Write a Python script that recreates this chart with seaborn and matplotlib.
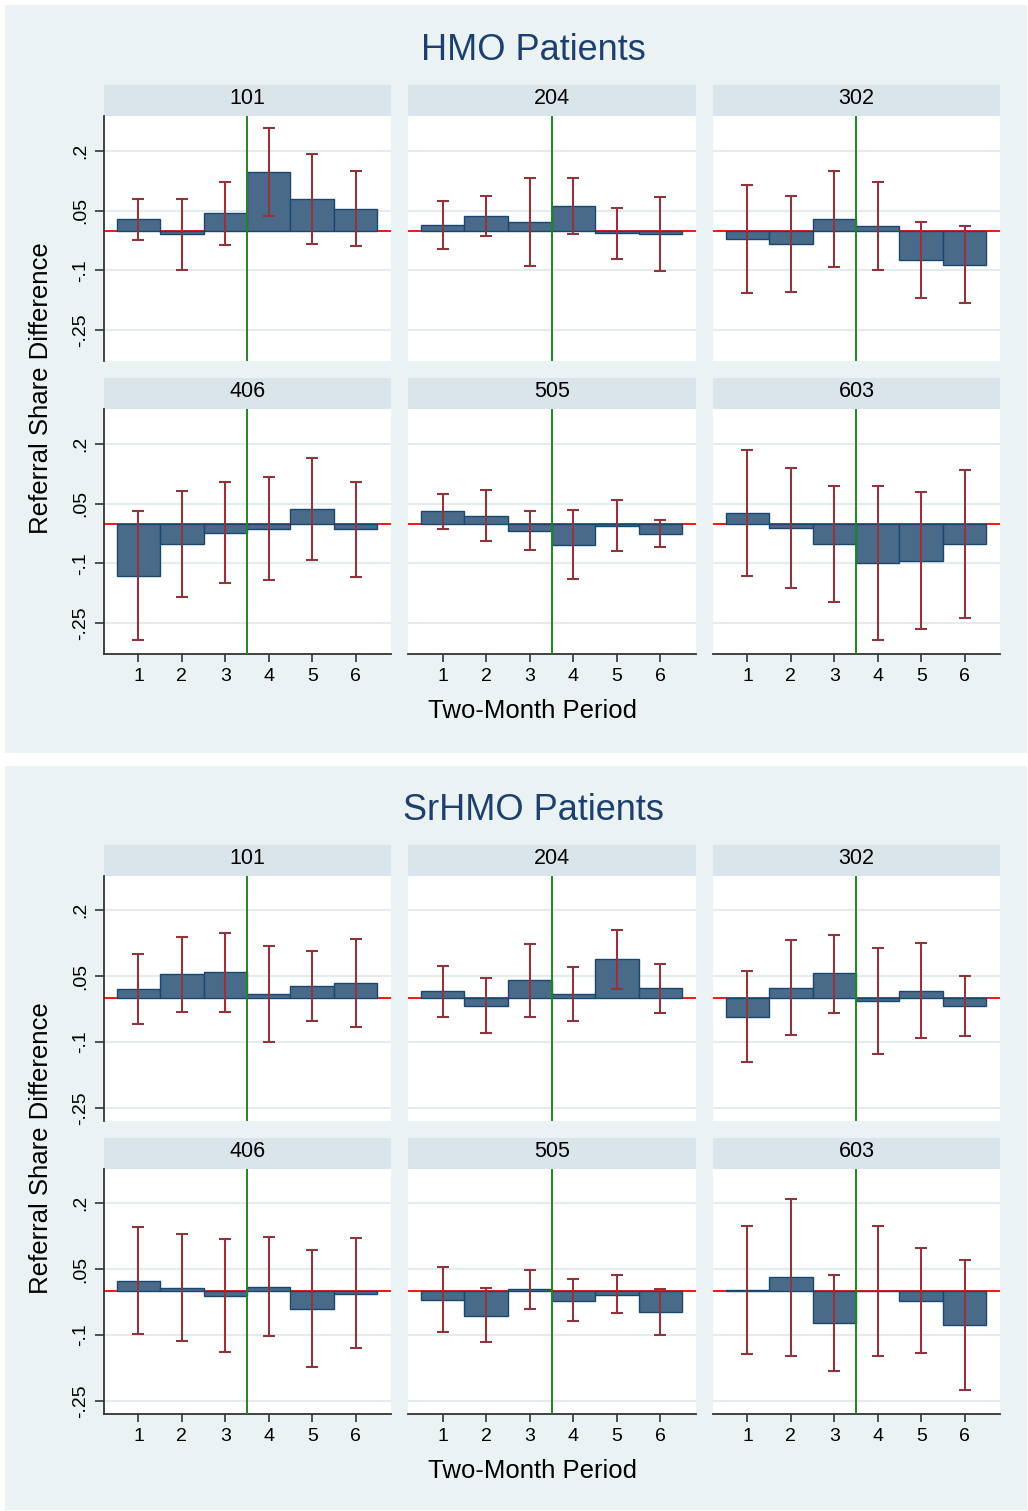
import numpy as np
import pandas as pd
import matplotlib
matplotlib.use("Agg")
import matplotlib.pyplot as plt
import seaborn as sns
from matplotlib.patches import Rectangle

plt.rcParams['font.family'] = ['Liberation Sans', 'DejaVu Sans']

# ---------------- data ----------------
periods = [1, 2, 3, 4, 5, 6]
clinics = ["101", "204", "302", "406", "505", "603"]
tick_vals = [-0.25, -0.1, 0.05, 0.2]
tick_text = ["-.25", "-.1", ".05", ".2"]
panel_titles = ["HMO Patients", "SrHMO Patients"]

hmo_est = {
    "101": [0.029, -0.009, 0.044, 0.148, 0.080, 0.056],
    "204": [0.014, 0.037, 0.023, 0.063, -0.006, -0.008],
    "302": [-0.020, -0.033, 0.029, 0.013, -0.074, -0.087],
    "406": [-0.132, -0.051, -0.023, -0.013, 0.037, -0.013],
    "505": [0.032, 0.019, -0.018, -0.053, -0.005, -0.025],
    "603": [0.028, -0.011, -0.051, -0.099, -0.093, -0.051],
}
hmo_lo = {
    "101": [-0.024, -0.098, -0.037, 0.037, -0.034, -0.039],
    "204": [-0.045, -0.013, -0.090, -0.008, -0.071, -0.102],
    "302": [-0.156, -0.154, -0.092, -0.100, -0.170, -0.183],
    "406": [-0.293, -0.184, -0.149, -0.141, -0.092, -0.134],
    "505": [-0.013, -0.044, -0.065, -0.138, -0.068, -0.058],
    "603": [-0.131, -0.163, -0.197, -0.292, -0.266, -0.237],
}
hmo_hi = {
    "101": [0.081, 0.081, 0.123, 0.259, 0.193, 0.151],
    "204": [0.074, 0.087, 0.134, 0.133, 0.058, 0.085],
    "302": [0.115, 0.087, 0.151, 0.123, 0.023, 0.011],
    "406": [0.032, 0.083, 0.104, 0.117, 0.165, 0.106],
    "505": [0.076, 0.084, 0.031, 0.035, 0.059, 0.009],
    "603": [0.186, 0.141, 0.095, 0.095, 0.080, 0.135],
}

srhmo_est = {
    "101": [0.020, 0.055, 0.060, 0.010, 0.028, 0.035],
    "204": [0.016, -0.017, 0.040, 0.009, 0.089, 0.022],
    "302": [-0.042, 0.024, 0.056, -0.007, 0.017, -0.017],
    "406": [0.024, 0.008, -0.011, 0.010, -0.041, -0.006],
    "505": [-0.020, -0.056, 0.004, -0.022, -0.008, -0.048],
    "603": [0.003, 0.032, -0.072, 0.001, -0.022, -0.078],
}
srhmo_lo = {
    "101": [-0.058, -0.031, -0.031, -0.100, -0.052, -0.065],
    "204": [-0.042, -0.080, -0.043, -0.052, 0.020, -0.033],
    "302": [-0.145, -0.085, -0.033, -0.128, -0.091, -0.086],
    "406": [-0.097, -0.113, -0.139, -0.103, -0.174, -0.130],
    "505": [-0.094, -0.117, -0.041, -0.069, -0.050, -0.099],
    "603": [-0.144, -0.147, -0.182, -0.147, -0.142, -0.225],
}
srhmo_hi = {
    "101": [0.100, 0.140, 0.149, 0.119, 0.108, 0.135],
    "204": [0.073, 0.046, 0.124, 0.070, 0.156, 0.078],
    "302": [0.061, 0.132, 0.144, 0.115, 0.125, 0.051],
    "406": [0.145, 0.130, 0.119, 0.122, 0.093, 0.120],
    "505": [0.054, 0.006, 0.049, 0.027, 0.036, 0.004],
    "603": [0.148, 0.210, 0.037, 0.148, 0.099, 0.070],
}

# ---------------- style ----------------
BG = "#eaf2f3"
STRIP = "#d9e5eb"
GRID = "#e4ecef"
BAR = "#4a6a8a"
BAR_EDGE = "#1a476f"
ERR = "#90353b"
NAVY = "#1c3f6e"
AXC = "#333333"

W, H = 1028, 1511
fig = plt.figure(figsize=(W / 100, H / 100), dpi=100)
fig.patch.set_facecolor("white")


def px_axes(x0, y0, x1, y1, **kw):
    return fig.add_axes([x0 / W, 1 - y1 / H, (x1 - x0) / W, (y1 - y0) / H], **kw)


cols_x = [(104, 391), (408, 696), (713, 1000)]
layouts = [
    dict(bg=(5, 5, 1027, 753), title_y=51, rows=[116, 409], xlabel_y=711,
         ylabel_y=388, ylim=(-0.328, 0.289),
         est=hmo_est, lo=hmo_lo, hi=hmo_hi),
    dict(bg=(5, 766, 1027, 1510), title_y=811, rows=[876, 1169], xlabel_y=1471,
         ylabel_y=1148, ylim=(-0.280, 0.278),
         est=srhmo_est, lo=srhmo_lo, hi=srhmo_hi),
]
PLOT_H = 245
STRIP_H = 31

for title, L in zip(panel_titles, layouts):
    x0, y0, x1, y1 = L["bg"]
    fig.add_artist(Rectangle((x0 / W, 1 - y1 / H), (x1 - x0) / W, (y1 - y0) / H,
                             transform=fig.transFigure, facecolor=BG,
                             edgecolor="none", zorder=-10))
    fig.text(533 / W, 1 - L["title_y"] / H, title, ha="center", va="center",
             fontsize=26, color=NAVY)
    fig.text(533 / W, 1 - L["xlabel_y"] / H, "Two-Month Period", ha="center",
             va="center", fontsize=18.5, color="black")
    fig.text(41 / W, 1 - L["ylabel_y"] / H, "Referral Share Difference",
             ha="center", va="center", rotation=90, fontsize=18.5, color="black")

    for i, cl in enumerate(clinics):
        r, c = divmod(i, 3)
        top = L["rows"][r]
        cx0, cx1 = cols_x[c]
        # strip
        sax = px_axes(cx0, top - STRIP_H, cx1, top)
        sax.set_facecolor(STRIP)
        sax.set_xticks([]); sax.set_yticks([])
        for s in sax.spines.values():
            s.set_visible(False)
        sax.text(0.5, 0.56, cl, ha="center", va="center", fontsize=15.5,
                 transform=sax.transAxes)

        ax = px_axes(cx0, top, cx1, top + PLOT_H)
        ax.set_facecolor("white")
        df = pd.DataFrame({"period": periods, "est": L["est"][cl],
                           "lo": L["lo"][cl], "hi": L["hi"][cl]})
        ax.axhline(0, color="#ff0000", lw=1.3, zorder=1.5)
        sns.barplot(data=df, x="period", y="est", native_scale=True, width=1,
                    color=BAR, saturation=1, edgecolor=BAR_EDGE, linewidth=1.0,
                    errorbar=None, ax=ax, zorder=2)
        est = df["est"].to_numpy()
        ax.errorbar(df["period"], est, yerr=[est - df["lo"], df["hi"] - est],
                    fmt="none", ecolor=ERR, elinewidth=1.5, capsize=4,
                    capthick=1.5, zorder=4)
        ax.axvline(3.5, color="#1a8a1a", lw=1.4, zorder=5)
        ax.set_xlim(0.206, 6.815)
        ax.set_ylim(*L["ylim"])
        ax.set_xlabel(""); ax.set_ylabel("")
        ax.set_yticks(tick_vals)
        ax.yaxis.grid(True, color=GRID, lw=1.5)
        ax.xaxis.grid(False)
        ax.set_axisbelow(True)
        for s in ["top", "right"]:
            ax.spines[s].set_visible(False)
        ax.spines["left"].set_visible(c == 0)
        ax.spines["bottom"].set_visible(r == 1)
        for s in ["left", "bottom"]:
            ax.spines[s].set_color(AXC)
            ax.spines[s].set_linewidth(1.3)
        if c == 0:
            ax.set_yticklabels(tick_text)
            ax.tick_params(axis="y", length=6.5, width=1.2, color=AXC,
                           labelsize=14, pad=4, labelrotation=90)
            for lbl in ax.get_yticklabels():
                lbl.set_va("center")
        else:
            ax.tick_params(axis="y", length=0, labelleft=False)
        ax.set_xticks(periods)
        if r == 1:
            ax.set_xticklabels([str(p) for p in periods])
            ax.tick_params(axis="x", length=5.5, width=1.2, color=AXC,
                           labelsize=14, pad=4.5)
        else:
            ax.tick_params(axis="x", length=0, labelbottom=False)

fig.savefig("out.png", dpi=100, facecolor="white")
